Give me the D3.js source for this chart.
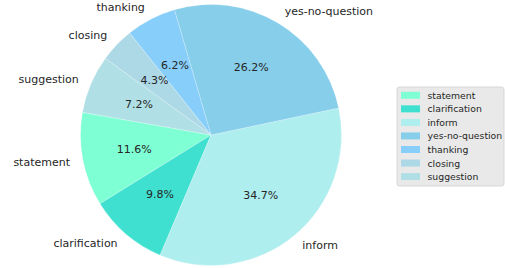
<!DOCTYPE html>
<html><head><meta charset="utf-8">
<script src="https://cdn.jsdelivr.net/npm/d3@7"></script>
<style>body{margin:0;background:#fff}svg{display:block}</style>
</head><body>
<svg id="c" width="505" height="268"></svg>
<script>
const categories = ["statement","clarification","inform","yes-no-question","thanking","closing","suggestion"];
const values = [11.6, 9.8, 34.7, 26.2, 6.2, 4.3, 7.2];
const colors = ["#7FFFD4","#40E0D0","#AFEEEE","#87CEEB","#87CEFA","#ADD8E6","#B0E0E6"];

const svg = d3.select("#c");
const cx = 211, cy = 135, r = 130.5;
const startDeg = 170;
const a0 = Math.PI/2 - startDeg*Math.PI/180;
const pie = d3.pie().sort(null).value(d=>d.v).startAngle(a0).endAngle(a0 - 2*Math.PI);
const data = categories.map((c,i)=>({c, v:values[i], col:colors[i]}));
const arcs = pie(data);
const arc = d3.arc().innerRadius(0).outerRadius(r);
const g = svg.append("g").attr("transform",`translate(${cx},${cy})`);
g.selectAll("path").data(arcs).join("path").attr("d",arc).attr("fill",d=>d.data.col)
 .attr("stroke","#ffffff").attr("stroke-opacity",0.35).attr("stroke-width",0.6);

const font = "DejaVu Sans, sans-serif";
const labArc = d3.arc().innerRadius(1.1*r).outerRadius(1.1*r);
const pctArc = d3.arc().innerRadius(0.6*r).outerRadius(0.6*r);
g.selectAll("text.lab").data(arcs).join("text").attr("class","lab")
 .attr("x",d=>labArc.centroid(d)[0]).attr("y",d=>labArc.centroid(d)[1])
 .attr("text-anchor",d=>labArc.centroid(d)[0]>0?"start":"end")
 .attr("dominant-baseline","central")
 .attr("font-family",font).attr("font-size",11).attr("fill","#262626")
 .text(d=>d.data.c);
g.selectAll("text.pct").data(arcs).join("text").attr("class","pct")
 .attr("x",d=>pctArc.centroid(d)[0]).attr("y",d=>pctArc.centroid(d)[1])
 .attr("text-anchor","middle").attr("dominant-baseline","central")
 .attr("font-family",font).attr("font-size",11).attr("fill","#262626")
 .text(d=>d.data.v.toFixed(1)+"%");

// legend
const lx = 397, ly = 87, lw = 107, lh = 99;
const lg = svg.append("g");
lg.append("rect").attr("x",lx).attr("y",ly).attr("width",lw).attr("height",lh).attr("rx",2.5)
 .attr("fill","#e9e9e9").attr("stroke","#cfcfcf").attr("stroke-width",0.8);
const rowH = 13.55, y0 = 95.3;
const rows = lg.selectAll("g.r").data(data).join("g").attr("class","r")
 .attr("transform",(d,i)=>`translate(0,${y0+i*rowH})`);
rows.append("rect").attr("x",401).attr("y",-3.5).attr("width",19).attr("height",7).attr("fill",d=>d.col);
rows.append("text").attr("x",427.5).attr("y",0).attr("dominant-baseline","central")
 .attr("font-family",font).attr("font-size",9.3).attr("fill","#262626").text(d=>d.c);
</script>
</body></html>
